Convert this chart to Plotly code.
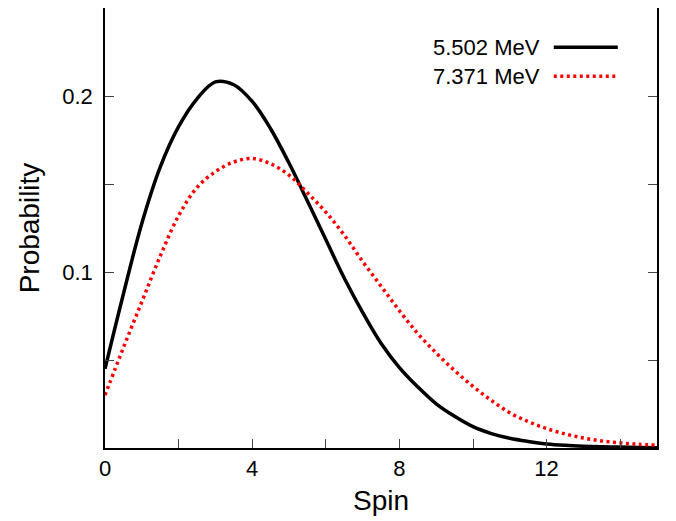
import plotly.graph_objects as go

spin = [0, 0.5, 1, 1.5, 2, 2.5, 3, 3.5, 4, 4.5, 5, 5.5, 6, 6.5, 7, 7.5, 8, 8.5,
        9, 9.5, 10, 10.5, 11, 11.5, 12, 12.5, 13, 13.5, 14, 14.5, 15]

p_5502 = [0.045, 0.0875, 0.1276, 0.1596, 0.1826, 0.1984, 0.2080, 0.2064, 0.1969, 0.1814,
          0.1619, 0.1404, 0.1184, 0.0966, 0.0771, 0.0595, 0.0457, 0.0347,
          0.0251, 0.0180, 0.0121, 0.0082, 0.0055, 0.0037, 0.0023, 0.0015, 0.0010,
          0.0007, 0.0005, 0.0003, 0.0002]

p_7371 = [0.030, 0.057, 0.083, 0.109, 0.132, 0.148, 0.157, 0.1625, 0.1645, 0.1615,
          0.155, 0.145, 0.134, 0.121, 0.106, 0.092, 0.078, 0.065,
          0.054, 0.044, 0.035, 0.027, 0.020, 0.015, 0.011, 0.008, 0.0057,
          0.0040, 0.0029, 0.0021, 0.0016]

series_names = ["5.502 MeV", "7.371 MeV"]
x_tick_vals = [0, 4, 8, 12]
x_tick_text = ["0", "4", "8", "12"]
y_tick_vals = [0.1, 0.2]
y_tick_text = ["0.1", "0.2"]

FONT = "Liberation Sans, Arial, Helvetica, sans-serif"

fig = go.Figure()
fig.add_trace(go.Scatter(x=spin, y=p_5502, mode="lines", name=series_names[0],
                         line=dict(color="black", width=3.5, shape="spline", smoothing=1.0),
                         showlegend=False))
fig.add_trace(go.Scatter(x=spin, y=p_7371, mode="lines", name=series_names[1],
                         line=dict(color="#ff0000", width=3.5, shape="spline", smoothing=1.0,
                                   dash="3px,3.5px"),
                         showlegend=False))

# gnuplot-style key: text on the left, line sample on the right
key_y = [0.911, 0.845]
key_styles = [dict(color="black", width=3.5), dict(color="#ff0000", width=3.5, dash="3px,3.5px")]
for name, ky, st in zip(series_names, key_y, key_styles):
    fig.add_annotation(x=0.792, y=ky, xref="paper", yref="paper", text=name,
                       showarrow=False, xanchor="right", yanchor="middle",
                       font=dict(family=FONT, size=22, color="black"))
    fig.add_shape(type="line", xref="paper", yref="paper", x0=0.813, x1=0.929,
                  y0=ky, y1=ky, line=st)

fig.update_layout(
    width=668, height=513,
    margin=dict(l=97, r=19, t=0, b=73),
    plot_bgcolor="white", paper_bgcolor="white",
    font=dict(family=FONT, size=22, color="black"),
    xaxis=dict(range=[0, 15], tickvals=x_tick_vals, ticktext=x_tick_text,
               ticks="inside", ticklen=9, tickwidth=1, tickcolor="#444",
               showline=True, linecolor="black", linewidth=1.5, mirror=True,
               showgrid=False, zeroline=False, automargin=False,
               minor=dict(dtick=2, tick0=0, ticks="inside", ticklen=9, tickwidth=1,
                          tickcolor="#444", showgrid=False),
               title=dict(text="Spin", font=dict(size=28), standoff=10),
               ticklabelstandoff=0),
    yaxis=dict(range=[0, 0.25], tickvals=y_tick_vals, ticktext=y_tick_text,
               ticks="inside", ticklen=9, tickwidth=1, tickcolor="#444",
               showline=True, linecolor="black", linewidth=1.5, mirror="ticks",
               showgrid=False, zeroline=False, automargin=False,
               minor=dict(tickvals=[0.05, 0.15], ticks="inside", ticklen=9, tickwidth=1,
                          tickcolor="#444", showgrid=False),
               title=dict(text="Probability", font=dict(size=28), standoff=14),
               ticklabelstandoff=6),
)

fig.write_html("out.html")
